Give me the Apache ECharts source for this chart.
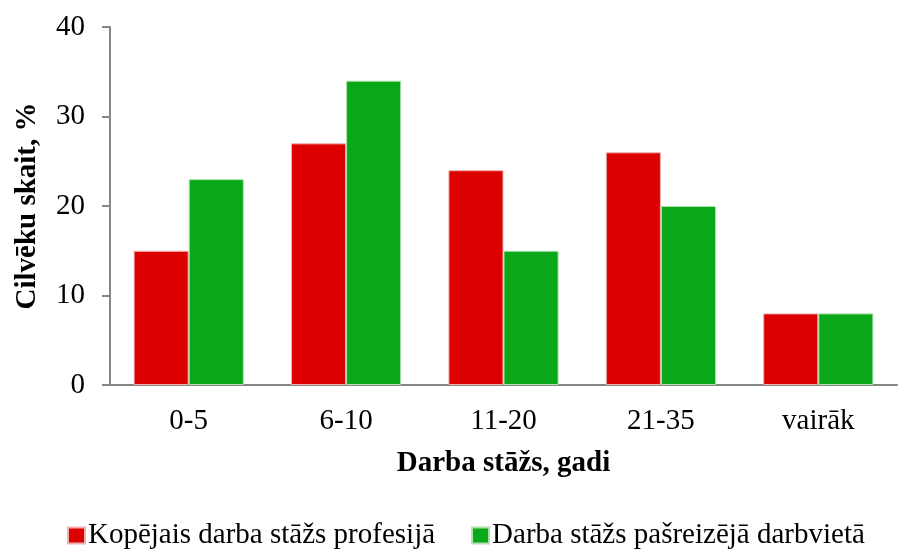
<!DOCTYPE html>
<html>
<head>
<meta charset="utf-8">
<script src="https://cdn.jsdelivr.net/npm/echarts@6/dist/echarts.min.js"></script>
<style>
  html, body { margin: 0; padding: 0; background: #fff; }
  #chart { width: 899px; height: 549px; }
</style>
</head>
<body>
<div id="chart"></div>
<script>
// Work experience groups (years)
const categories = ['0-5', '6-10', '11-20', '21-35', 'vairāk'];
// Share of people, %
const totalExperience = [15, 27, 24, 26, 8];
const currentWorkplace = [23, 34, 15, 20, 8];
const seriesNames = ['Kopējais darba stāžs profesijā', 'Darba stāžs pašreizējā darbvietā'];

const font = '"Liberation Serif", "Times New Roman", serif';
const axisGray = '#868686';

const chart = echarts.init(document.getElementById('chart'));
chart.setOption({
  animation: false,
  textStyle: { fontFamily: font, color: '#000' },
  grid: { left: 110, right: 2, top: 27, bottom: 164 },
  legend: {
    top: 516,
    left: 62,
    itemWidth: 17,
    itemHeight: 16,
    itemGap: 36,
    icon: 'rect',
    textStyle: { fontFamily: font, fontSize: 29, color: '#000', padding: [0, 0, 0, -2] },
    data: seriesNames
  },
  xAxis: {
    type: 'category',
    data: categories,
    name: 'Darba stāžs, gadi',
    nameLocation: 'middle',
    nameGap: 64,
    nameTextStyle: { fontFamily: font, fontSize: 29, fontWeight: 'bold', color: '#000' },
    axisLine: { lineStyle: { color: axisGray, width: 2 } },
    axisTick: { show: false },
    axisLabel: { fontFamily: font, fontSize: 29, color: '#000', margin: 22 }
  },
  yAxis: {
    type: 'value',
    min: 0,
    max: 40,
    interval: 10,
    name: 'Cilvēku skait, %',
    nameLocation: 'middle',
    nameGap: 68,
    nameTextStyle: { fontFamily: font, fontSize: 29, fontWeight: 'bold', color: '#000' },
    axisLine: { show: true, lineStyle: { color: axisGray, width: 2 } },
    axisTick: { show: true, length: 8, lineStyle: { color: axisGray, width: 2 } },
    axisLabel: { fontFamily: font, fontSize: 29, color: '#000', margin: 25 },
    splitLine: { show: false }
  },
  series: [
    {
      name: seriesNames[0],
      type: 'bar',
      data: totalExperience,
      barGap: '0%',
      barCategoryGap: '30%',
      itemStyle: { color: '#DD0000', borderColor: '#f2b0b0', borderWidth: 1 }
    },
    {
      name: seriesNames[1],
      type: 'bar',
      data: currentWorkplace,
      barGap: '0%',
      barCategoryGap: '30%',
      itemStyle: { color: '#08A818', borderColor: '#b0e0b0', borderWidth: 1 }
    }
  ]
});
</script>
</body>
</html>
